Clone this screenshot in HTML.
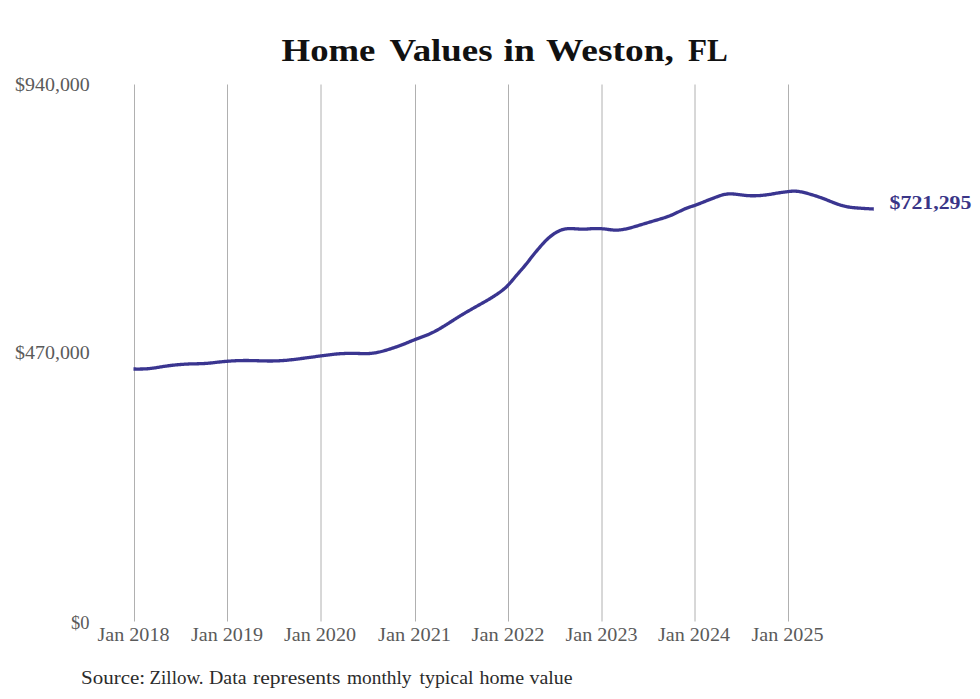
<!DOCTYPE html>
<html><head><meta charset="utf-8"><style>
html,body{margin:0;padding:0;background:#fff;}
body{width:980px;height:699px;overflow:hidden;}
svg{display:block;}
text{font-family:"Liberation Serif", serif;}
</style></head><body>
<svg width="980" height="699" viewBox="0 0 980 699">
<rect width="980" height="699" fill="#fff"/>
<g stroke="#b0b0b0" stroke-width="1">
<line x1="134.5" y1="84.5" x2="134.5" y2="621.5"/>
<line x1="227.5" y1="84.5" x2="227.5" y2="621.5"/>
<line x1="321.0" y1="84.5" x2="321.0" y2="621.5"/>
<line x1="415.5" y1="84.5" x2="415.5" y2="621.5"/>
<line x1="508.5" y1="84.5" x2="508.5" y2="621.5"/>
<line x1="602.0" y1="84.5" x2="602.0" y2="621.5"/>
<line x1="695.0" y1="84.5" x2="695.0" y2="621.5"/>
<line x1="788.5" y1="84.5" x2="788.5" y2="621.5"/>
</g>
<path d="M133.50,369.01 L134.50,369.02 L135.50,369.02 L136.50,369.03 L137.50,369.03 L138.50,369.03 L139.50,369.03 L140.50,369.02 L141.50,369.01 L142.50,368.99 L143.50,368.96 L144.50,368.92 L145.50,368.87 L146.50,368.81 L147.50,368.75 L148.50,368.67 L149.50,368.57 L150.50,368.47 L151.50,368.35 L152.50,368.22 L153.50,368.07 L154.50,367.92 L155.50,367.76 L156.50,367.60 L157.50,367.43 L158.50,367.26 L159.50,367.10 L160.50,366.93 L161.50,366.77 L162.50,366.61 L163.50,366.46 L164.50,366.31 L165.50,366.16 L166.50,366.02 L167.50,365.88 L168.50,365.75 L169.50,365.62 L170.50,365.50 L171.50,365.38 L172.50,365.26 L173.50,365.15 L174.50,365.04 L175.50,364.94 L176.50,364.84 L177.50,364.75 L178.50,364.66 L179.50,364.57 L180.50,364.49 L181.50,364.42 L182.50,364.34 L183.50,364.28 L184.50,364.21 L185.50,364.16 L186.50,364.10 L187.50,364.05 L188.50,364.01 L189.50,363.97 L190.50,363.93 L191.50,363.90 L192.50,363.87 L193.50,363.85 L194.50,363.82 L195.50,363.80 L196.50,363.78 L197.50,363.76 L198.50,363.74 L199.50,363.71 L200.50,363.68 L201.50,363.65 L202.50,363.61 L203.50,363.57 L204.50,363.51 L205.50,363.45 L206.50,363.38 L207.50,363.30 L208.50,363.21 L209.50,363.12 L210.50,363.01 L211.50,362.91 L212.50,362.79 L213.50,362.68 L214.50,362.56 L215.50,362.45 L216.50,362.33 L217.50,362.22 L218.50,362.11 L219.50,362.00 L220.50,361.90 L221.50,361.80 L222.50,361.70 L223.50,361.60 L224.50,361.51 L225.50,361.43 L226.50,361.34 L227.50,361.26 L228.50,361.18 L229.50,361.11 L230.50,361.04 L231.50,360.97 L232.50,360.91 L233.50,360.85 L234.50,360.80 L235.50,360.75 L236.50,360.71 L237.50,360.66 L238.50,360.63 L239.50,360.60 L240.50,360.57 L241.50,360.55 L242.50,360.53 L243.50,360.52 L244.50,360.51 L245.50,360.50 L246.50,360.51 L247.50,360.51 L248.50,360.52 L249.50,360.54 L250.50,360.55 L251.50,360.58 L252.50,360.60 L253.50,360.62 L254.50,360.65 L255.50,360.68 L256.50,360.71 L257.50,360.74 L258.50,360.77 L259.50,360.80 L260.50,360.83 L261.50,360.86 L262.50,360.89 L263.50,360.91 L264.50,360.93 L265.50,360.95 L266.50,360.97 L267.50,360.98 L268.50,360.99 L269.50,361.00 L270.50,361.00 L271.50,360.99 L272.50,360.98 L273.50,360.97 L274.50,360.95 L275.50,360.92 L276.50,360.89 L277.50,360.85 L278.50,360.81 L279.50,360.76 L280.50,360.71 L281.50,360.65 L282.50,360.58 L283.50,360.51 L284.50,360.44 L285.50,360.36 L286.50,360.27 L287.50,360.18 L288.50,360.08 L289.50,359.98 L290.50,359.87 L291.50,359.76 L292.50,359.65 L293.50,359.53 L294.50,359.41 L295.50,359.28 L296.50,359.16 L297.50,359.03 L298.50,358.90 L299.50,358.77 L300.50,358.64 L301.50,358.50 L302.50,358.37 L303.50,358.24 L304.50,358.10 L305.50,357.97 L306.50,357.84 L307.50,357.70 L308.50,357.57 L309.50,357.43 L310.50,357.30 L311.50,357.17 L312.50,357.03 L313.50,356.90 L314.50,356.76 L315.50,356.63 L316.50,356.49 L317.50,356.36 L318.50,356.22 L319.50,356.09 L320.50,355.95 L321.50,355.82 L322.50,355.68 L323.50,355.55 L324.50,355.41 L325.50,355.28 L326.50,355.15 L327.50,355.02 L328.50,354.90 L329.50,354.77 L330.50,354.65 L331.50,354.54 L332.50,354.42 L333.50,354.31 L334.50,354.21 L335.50,354.11 L336.50,354.01 L337.50,353.93 L338.50,353.84 L339.50,353.77 L340.50,353.70 L341.50,353.63 L342.50,353.58 L343.50,353.53 L344.50,353.49 L345.50,353.45 L346.50,353.42 L347.50,353.40 L348.50,353.38 L349.50,353.37 L350.50,353.36 L351.50,353.36 L352.50,353.36 L353.50,353.37 L354.50,353.39 L355.50,353.41 L356.50,353.43 L357.50,353.46 L358.50,353.49 L359.50,353.52 L360.50,353.55 L361.50,353.57 L362.50,353.59 L363.50,353.61 L364.50,353.62 L365.50,353.62 L366.50,353.61 L367.50,353.58 L368.50,353.55 L369.50,353.49 L370.50,353.42 L371.50,353.34 L372.50,353.23 L373.50,353.11 L374.50,352.96 L375.50,352.81 L376.50,352.63 L377.50,352.44 L378.50,352.23 L379.50,352.01 L380.50,351.77 L381.50,351.52 L382.50,351.25 L383.50,350.98 L384.50,350.69 L385.50,350.39 L386.50,350.09 L387.50,349.78 L388.50,349.46 L389.50,349.14 L390.50,348.81 L391.50,348.48 L392.50,348.16 L393.50,347.83 L394.50,347.49 L395.50,347.16 L396.50,346.82 L397.50,346.47 L398.50,346.12 L399.50,345.76 L400.50,345.40 L401.50,345.02 L402.50,344.64 L403.50,344.25 L404.50,343.85 L405.50,343.45 L406.50,343.04 L407.50,342.63 L408.50,342.22 L409.50,341.80 L410.50,341.39 L411.50,340.98 L412.50,340.57 L413.50,340.17 L414.50,339.77 L415.50,339.38 L416.50,339.00 L417.50,338.63 L418.50,338.26 L419.50,337.89 L420.50,337.52 L421.50,337.15 L422.50,336.79 L423.50,336.41 L424.50,336.03 L425.50,335.65 L426.50,335.25 L427.50,334.85 L428.50,334.43 L429.50,334.00 L430.50,333.55 L431.50,333.09 L432.50,332.61 L433.50,332.11 L434.50,331.60 L435.50,331.07 L436.50,330.52 L437.50,329.97 L438.50,329.40 L439.50,328.82 L440.50,328.23 L441.50,327.63 L442.50,327.03 L443.50,326.41 L444.50,325.80 L445.50,325.17 L446.50,324.54 L447.50,323.91 L448.50,323.28 L449.50,322.65 L450.50,322.01 L451.50,321.38 L452.50,320.74 L453.50,320.10 L454.50,319.47 L455.50,318.84 L456.50,318.21 L457.50,317.58 L458.50,316.95 L459.50,316.33 L460.50,315.71 L461.50,315.10 L462.50,314.49 L463.50,313.89 L464.50,313.29 L465.50,312.70 L466.50,312.11 L467.50,311.53 L468.50,310.95 L469.50,310.38 L470.50,309.81 L471.50,309.24 L472.50,308.68 L473.50,308.11 L474.50,307.55 L475.50,306.99 L476.50,306.43 L477.50,305.87 L478.50,305.31 L479.50,304.74 L480.50,304.18 L481.50,303.62 L482.50,303.05 L483.50,302.48 L484.50,301.91 L485.50,301.33 L486.50,300.75 L487.50,300.16 L488.50,299.57 L489.50,298.97 L490.50,298.37 L491.50,297.75 L492.50,297.13 L493.50,296.51 L494.50,295.87 L495.50,295.22 L496.50,294.57 L497.50,293.89 L498.50,293.21 L499.50,292.50 L500.50,291.77 L501.50,291.01 L502.50,290.22 L503.50,289.40 L504.50,288.55 L505.50,287.65 L506.50,286.71 L507.50,285.72 L508.50,284.69 L509.50,283.60 L510.50,282.47 L511.50,281.31 L512.50,280.13 L513.50,278.94 L514.50,277.74 L515.50,276.55 L516.50,275.37 L517.50,274.21 L518.50,273.06 L519.50,271.92 L520.50,270.78 L521.50,269.63 L522.50,268.48 L523.50,267.31 L524.50,266.13 L525.50,264.93 L526.50,263.70 L527.50,262.44 L528.50,261.17 L529.50,259.88 L530.50,258.58 L531.50,257.29 L532.50,256.01 L533.50,254.76 L534.50,253.53 L535.50,252.32 L536.50,251.12 L537.50,249.94 L538.50,248.75 L539.50,247.57 L540.50,246.41 L541.50,245.26 L542.50,244.13 L543.50,243.04 L544.50,241.97 L545.50,240.95 L546.50,239.95 L547.50,239.00 L548.50,238.09 L549.50,237.22 L550.50,236.39 L551.50,235.60 L552.50,234.85 L553.50,234.13 L554.50,233.46 L555.50,232.82 L556.50,232.23 L557.50,231.67 L558.50,231.17 L559.50,230.71 L560.50,230.30 L561.50,229.93 L562.50,229.61 L563.50,229.35 L564.50,229.12 L565.50,228.95 L566.50,228.81 L567.50,228.71 L568.50,228.65 L569.50,228.61 L570.50,228.60 L571.50,228.62 L572.50,228.65 L573.50,228.70 L574.50,228.76 L575.50,228.83 L576.50,228.89 L577.50,228.96 L578.50,229.02 L579.50,229.07 L580.50,229.11 L581.50,229.15 L582.50,229.16 L583.50,229.17 L584.50,229.15 L585.50,229.11 L586.50,229.06 L587.50,228.99 L588.50,228.92 L589.50,228.84 L590.50,228.76 L591.50,228.70 L592.50,228.65 L593.50,228.61 L594.50,228.58 L595.50,228.56 L596.50,228.55 L597.50,228.56 L598.50,228.58 L599.50,228.62 L600.50,228.66 L601.50,228.72 L602.50,228.79 L603.50,228.88 L604.50,228.98 L605.50,229.10 L606.50,229.22 L607.50,229.36 L608.50,229.49 L609.50,229.63 L610.50,229.76 L611.50,229.88 L612.50,229.98 L613.50,230.06 L614.50,230.12 L615.50,230.15 L616.50,230.15 L617.50,230.12 L618.50,230.06 L619.50,229.97 L620.50,229.86 L621.50,229.73 L622.50,229.57 L623.50,229.40 L624.50,229.21 L625.50,229.01 L626.50,228.79 L627.50,228.56 L628.50,228.32 L629.50,228.07 L630.50,227.82 L631.50,227.55 L632.50,227.27 L633.50,226.99 L634.50,226.70 L635.50,226.41 L636.50,226.11 L637.50,225.81 L638.50,225.51 L639.50,225.20 L640.50,224.90 L641.50,224.59 L642.50,224.29 L643.50,223.98 L644.50,223.68 L645.50,223.37 L646.50,223.07 L647.50,222.77 L648.50,222.46 L649.50,222.16 L650.50,221.86 L651.50,221.57 L652.50,221.27 L653.50,220.97 L654.50,220.68 L655.50,220.39 L656.50,220.10 L657.50,219.81 L658.50,219.52 L659.50,219.22 L660.50,218.93 L661.50,218.63 L662.50,218.33 L663.50,218.02 L664.50,217.70 L665.50,217.37 L666.50,217.03 L667.50,216.68 L668.50,216.32 L669.50,215.94 L670.50,215.54 L671.50,215.12 L672.50,214.69 L673.50,214.24 L674.50,213.78 L675.50,213.31 L676.50,212.83 L677.50,212.35 L678.50,211.86 L679.50,211.38 L680.50,210.90 L681.50,210.42 L682.50,209.96 L683.50,209.50 L684.50,209.06 L685.50,208.64 L686.50,208.24 L687.50,207.86 L688.50,207.50 L689.50,207.15 L690.50,206.81 L691.50,206.49 L692.50,206.16 L693.50,205.83 L694.50,205.49 L695.50,205.14 L696.50,204.77 L697.50,204.40 L698.50,204.01 L699.50,203.62 L700.50,203.22 L701.50,202.82 L702.50,202.41 L703.50,202.00 L704.50,201.60 L705.50,201.20 L706.50,200.80 L707.50,200.40 L708.50,200.01 L709.50,199.62 L710.50,199.23 L711.50,198.85 L712.50,198.47 L713.50,198.09 L714.50,197.71 L715.50,197.33 L716.50,196.95 L717.50,196.58 L718.50,196.22 L719.50,195.87 L720.50,195.54 L721.50,195.23 L722.50,194.94 L723.50,194.68 L724.50,194.46 L725.50,194.27 L726.50,194.12 L727.50,194.01 L728.50,193.93 L729.50,193.89 L730.50,193.88 L731.50,193.89 L732.50,193.93 L733.50,193.99 L734.50,194.07 L735.50,194.17 L736.50,194.28 L737.50,194.40 L738.50,194.53 L739.50,194.66 L740.50,194.80 L741.50,194.94 L742.50,195.07 L743.50,195.20 L744.50,195.32 L745.50,195.42 L746.50,195.52 L747.50,195.59 L748.50,195.65 L749.50,195.70 L750.50,195.73 L751.50,195.76 L752.50,195.77 L753.50,195.76 L754.50,195.75 L755.50,195.73 L756.50,195.70 L757.50,195.66 L758.50,195.61 L759.50,195.55 L760.50,195.49 L761.50,195.41 L762.50,195.32 L763.50,195.23 L764.50,195.12 L765.50,195.00 L766.50,194.87 L767.50,194.73 L768.50,194.58 L769.50,194.43 L770.50,194.26 L771.50,194.09 L772.50,193.92 L773.50,193.75 L774.50,193.57 L775.50,193.40 L776.50,193.23 L777.50,193.06 L778.50,192.90 L779.50,192.75 L780.50,192.59 L781.50,192.45 L782.50,192.31 L783.50,192.17 L784.50,192.03 L785.50,191.91 L786.50,191.78 L787.50,191.67 L788.50,191.55 L789.50,191.44 L790.50,191.35 L791.50,191.26 L792.50,191.20 L793.50,191.16 L794.50,191.15 L795.50,191.17 L796.50,191.23 L797.50,191.32 L798.50,191.44 L799.50,191.59 L800.50,191.76 L801.50,191.96 L802.50,192.17 L803.50,192.41 L804.50,192.65 L805.50,192.91 L806.50,193.17 L807.50,193.44 L808.50,193.72 L809.50,194.01 L810.50,194.30 L811.50,194.60 L812.50,194.91 L813.50,195.22 L814.50,195.54 L815.50,195.86 L816.50,196.19 L817.50,196.52 L818.50,196.86 L819.50,197.20 L820.50,197.55 L821.50,197.91 L822.50,198.27 L823.50,198.64 L824.50,199.02 L825.50,199.40 L826.50,199.80 L827.50,200.20 L828.50,200.60 L829.50,201.01 L830.50,201.42 L831.50,201.83 L832.50,202.23 L833.50,202.63 L834.50,203.02 L835.50,203.40 L836.50,203.77 L837.50,204.13 L838.50,204.47 L839.50,204.80 L840.50,205.12 L841.50,205.41 L842.50,205.70 L843.50,205.96 L844.50,206.21 L845.50,206.43 L846.50,206.64 L847.50,206.83 L848.50,207.00 L849.50,207.16 L850.50,207.30 L851.50,207.42 L852.50,207.54 L853.50,207.65 L854.50,207.74 L855.50,207.83 L856.50,207.92 L857.50,208.00 L858.50,208.08 L859.50,208.15 L860.50,208.23 L861.50,208.30 L862.50,208.36 L863.50,208.43 L864.50,208.49 L865.50,208.55 L866.50,208.61 L867.50,208.67 L868.50,208.72 L869.50,208.78 L870.50,208.83 L871.50,208.88 L872.50,208.93 L873.50,208.99 L873.80,209.00" fill="none" stroke="#3a3590" stroke-width="3.3" stroke-linejoin="round"/>
<text x="281.60" y="60.50" font-size="32" font-weight="bold" fill="#111" textLength="93.80" lengthAdjust="spacingAndGlyphs">Home</text>
<text x="389.40" y="60.50" font-size="32" font-weight="bold" fill="#111" textLength="103.21" lengthAdjust="spacingAndGlyphs">Values</text>
<text x="503.60" y="60.50" font-size="32" font-weight="bold" fill="#111" textLength="31.46" lengthAdjust="spacingAndGlyphs">in</text>
<text x="546.00" y="60.50" font-size="32" font-weight="bold" fill="#111" textLength="127.81" lengthAdjust="spacingAndGlyphs">Weston,</text>
<text x="688.00" y="60.50" font-size="32" font-weight="bold" fill="#111" textLength="39.83" lengthAdjust="spacingAndGlyphs">FL</text>
<text x="81.00" y="683.90" font-size="18" fill="#2b2b2b" textLength="64.11" lengthAdjust="spacingAndGlyphs">Source:</text>
<text x="149.50" y="683.90" font-size="18" fill="#2b2b2b" textLength="54.10" lengthAdjust="spacingAndGlyphs">Zillow.</text>
<text x="209.00" y="683.90" font-size="18" fill="#2b2b2b" textLength="37.53" lengthAdjust="spacingAndGlyphs">Data</text>
<text x="253.00" y="683.90" font-size="18" fill="#2b2b2b" textLength="87.52" lengthAdjust="spacingAndGlyphs">represents</text>
<text x="347.00" y="683.90" font-size="18" fill="#2b2b2b" textLength="64.52" lengthAdjust="spacingAndGlyphs">monthly</text>
<text x="419.50" y="683.90" font-size="18" fill="#2b2b2b" textLength="54.01" lengthAdjust="spacingAndGlyphs">typical</text>
<text x="479.50" y="683.90" font-size="18" fill="#2b2b2b" textLength="44.54" lengthAdjust="spacingAndGlyphs">home</text>
<text x="529.50" y="683.90" font-size="18" fill="#2b2b2b" textLength="43.01" lengthAdjust="spacingAndGlyphs">value</text>
<text x="15.00" y="90.70" font-size="19" fill="#5a5a5a" textLength="74.82" lengthAdjust="spacingAndGlyphs">$940,000</text>
<text x="15.00" y="358.70" font-size="19" fill="#5a5a5a" textLength="74.82" lengthAdjust="spacingAndGlyphs">$470,000</text>
<text x="71.00" y="628.50" font-size="19" fill="#5a5a5a" textLength="18.45" lengthAdjust="spacingAndGlyphs">$0</text>
<text x="889.60" y="208.50" font-size="19.5" font-weight="bold" fill="#3a3587" textLength="81.82" lengthAdjust="spacingAndGlyphs">$721,295</text>
<text x="97.50" y="640.50" font-size="19" fill="#5a5a5a" textLength="72.01" lengthAdjust="spacingAndGlyphs">Jan 2018</text>
<text x="191.00" y="640.50" font-size="19" fill="#5a5a5a" textLength="72.01" lengthAdjust="spacingAndGlyphs">Jan 2019</text>
<text x="284.00" y="640.50" font-size="19" fill="#5a5a5a" textLength="72.02" lengthAdjust="spacingAndGlyphs">Jan 2020</text>
<text x="378.00" y="640.50" font-size="19" fill="#5a5a5a" textLength="73.04" lengthAdjust="spacingAndGlyphs">Jan 2021</text>
<text x="471.50" y="640.50" font-size="19" fill="#5a5a5a" textLength="73.04" lengthAdjust="spacingAndGlyphs">Jan 2022</text>
<text x="565.50" y="640.50" font-size="19" fill="#5a5a5a" textLength="72.01" lengthAdjust="spacingAndGlyphs">Jan 2023</text>
<text x="658.00" y="640.50" font-size="19" fill="#5a5a5a" textLength="72.01" lengthAdjust="spacingAndGlyphs">Jan 2024</text>
<text x="751.50" y="640.50" font-size="19" fill="#5a5a5a" textLength="72.01" lengthAdjust="spacingAndGlyphs">Jan 2025</text>
</svg>
</body></html>
